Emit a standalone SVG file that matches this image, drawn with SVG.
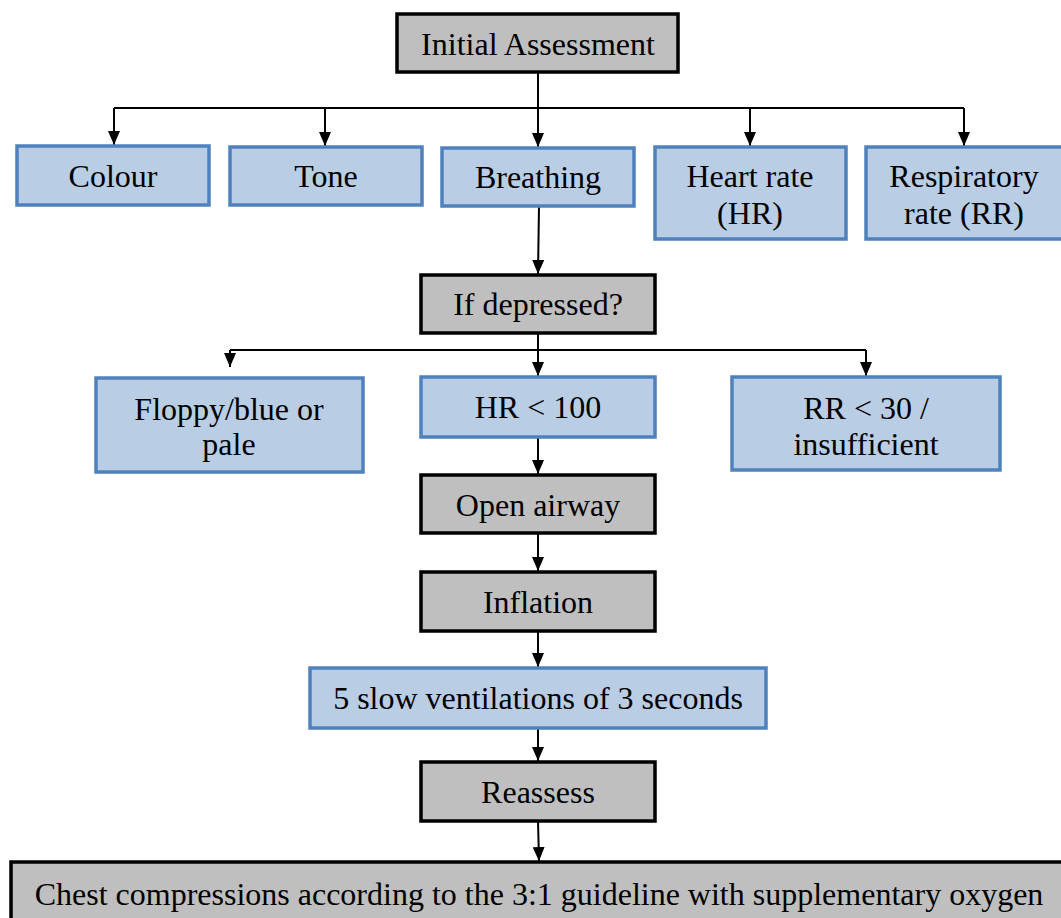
<svg xmlns="http://www.w3.org/2000/svg" width="1061" height="918" viewBox="0 0 1061 918">
<defs>
<marker id="ah" viewBox="0 0 14 12" refX="14" refY="6" markerWidth="14" markerHeight="12" markerUnits="userSpaceOnUse" orient="auto">
<path d="M0,0 L14,6 L0,12 Z" fill="#000"/>
</marker>
<style>
.g{fill:#bfbfbf;stroke:#000;stroke-width:3.5}
.b{fill:#b9cde5;stroke:#4f81bd;stroke-width:3.5}
.t text{font-size:32px;fill:#000;text-anchor:middle}
.c path{fill:none;stroke:#000;stroke-width:2}
</style>
</defs>
<rect width="1061" height="918" fill="#fff"/>
<g class="c">
<path d="M538,72 V108"/>
<path d="M114,108 H964"/>
<path d="M114,108 V145" marker-end="url(#ah)"/>
<path d="M325,108 V146" marker-end="url(#ah)"/>
<path d="M538,108 V147" marker-end="url(#ah)"/>
<path d="M750,108 V146" marker-end="url(#ah)"/>
<path d="M964,108 V146" marker-end="url(#ah)"/>
<path d="M539,206 L538,274" marker-end="url(#ah)"/>
<path d="M538,333 V376" marker-end="url(#ah)"/>
<path d="M230,350 H866"/>
<path d="M230,350 V367" marker-end="url(#ah)"/>
<path d="M866,350 V376" marker-end="url(#ah)"/>
<path d="M538,437 V474" marker-end="url(#ah)"/>
<path d="M538,533 V571" marker-end="url(#ah)"/>
<path d="M538,631 V667" marker-end="url(#ah)"/>
<path d="M538,728 V761" marker-end="url(#ah)"/>
<path d="M538,821 L539,861" marker-end="url(#ah)"/>
</g>
<g class="t" font-family="'Liberation Serif', 'Times New Roman', Times, 'DejaVu Serif', serif">
<g id="initial"><rect class="g" x="397" y="14" width="281" height="58"/><text x="538" y="55">Initial Assessment</text></g>
<g id="colour"><rect class="b" x="17" y="146" width="192" height="59"/><text x="113" y="187">Colour</text></g>
<g id="tone"><rect class="b" x="230" y="147" width="192" height="58"/><text x="326" y="187">Tone</text></g>
<g id="breathing"><rect class="b" x="442" y="148" width="192" height="58"/><text x="538" y="188">Breathing</text></g>
<g id="hr"><rect class="b" x="655" y="147" width="191" height="92"/><text x="750" y="187">Heart rate</text><text x="750" y="224">(HR)</text></g>
<g id="rr"><rect class="b" x="866" y="147" width="198" height="92"/><text x="964" y="187">Respiratory</text><text x="964" y="224">rate (RR)</text></g>
<g id="depressed"><rect class="g" x="421" y="275" width="234" height="58"/><text x="538" y="315">If depressed?</text></g>
<g id="floppy"><rect class="b" x="96" y="378" width="267" height="94"/><text x="229" y="420">Floppy/blue or</text><text x="229" y="455">pale</text></g>
<g id="hr100"><rect class="b" x="421" y="377" width="234" height="60"/><text x="538" y="418">HR &lt; 100</text></g>
<g id="rr30"><rect class="b" x="732" y="377" width="268" height="93"/><text x="866" y="419">RR &lt; 30 /</text><text x="866" y="455">insufficient</text></g>
<g id="airway"><rect class="g" x="421" y="475" width="234" height="58"/><text x="538" y="516">Open airway</text></g>
<g id="inflation"><rect class="g" x="421" y="572" width="234" height="59"/><text x="538" y="613">Inflation</text></g>
<g id="slow"><rect class="b" x="310" y="668" width="456" height="60"/><text x="538" y="709">5 slow ventilations of 3 seconds</text></g>
<g id="reassess"><rect class="g" x="421" y="762" width="234" height="59"/><text x="538" y="803">Reassess</text></g>
<g id="chest"><rect class="g" x="11" y="862" width="1055" height="62"/><text x="539" y="905">Chest compressions according to the 3:1 guideline with supplementary oxygen</text></g>
</g>
</svg>
